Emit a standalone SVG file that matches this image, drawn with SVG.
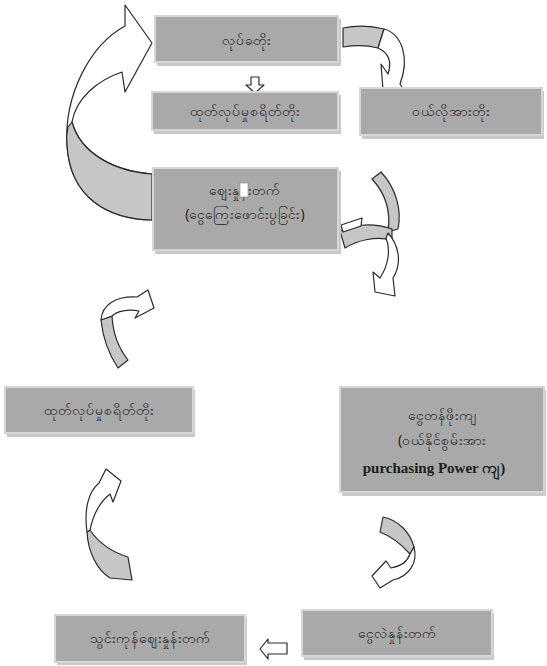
<svg xmlns="http://www.w3.org/2000/svg" width="547" height="666" viewBox="0 0 547 666">
<style>
.box{fill:#a9a9a9;stroke:#d6d6d6;stroke-width:2}
.sh{fill:#c9c9c9}
.t{font-family:"Noto Sans","DejaVu Sans",sans-serif;font-size:14px;fill:#1e1e1e;text-anchor:middle}
.s{font-family:"Liberation Serif",serif;font-size:15px;font-weight:bold;fill:#1e1e1e;text-anchor:middle}
.aw{fill:#ffffff;stroke:#2a2a2a;stroke-width:1.2;stroke-linejoin:round}
.ag{fill:#c6c6c6;stroke:#2a2a2a;stroke-width:1.2;stroke-linejoin:round}
</style>
<rect width="547" height="666" fill="#ffffff"/>
<g id="connectors">
  <path class="aw" d="M152,220 C108,219 70,198 67,145 C64,95 90,45 125,26 L125,5 L152,43 L125,92 L122,72 C98,80 76,98 72,122 C80,152 112,171 152,174 Z"/>
  <path class="ag" d="M72,122 C80,152 112,171 152,174 L152,220 C108,219 70,198 67,145 C66,137 67,131 68,127 Z"/>
  <path class="ag" d="M343,28 C358,25 372,26 384,29 L378,48 C367,45 355,45 343,47 Z"/>
  <path class="aw" d="M384,29 C402,34 410,58 400,84 L405,92 L383,90 L381,64 L388,74 C392,62 389,53 378,48 Z"/>
  <path class="aw" d="M251,77 H259 V85 H264 L255,93 L246,85 H251 Z"/>
  <path class="ag" d="M372,179 L381,172 C396,188 402,210 398,229 L388,232 C391,212 386,194 372,179 Z"/>
  <path class="ag" d="M340,231 C356,224 374,223 392,229 L392,240 C376,236 358,240 345,248 Z"/>
  <path class="aw" d="M341,225 L362,218 L361,226 L343,232 Z"/>
  <path class="aw" d="M388,233 C398,244 403,262 393,278 L395,296 L375,292 L373,272 L380,278 C388,266 391,250 386,238 Z"/>
  <path class="ag" d="M101,320 C103,340 110,356 118,368 L128,360 C120,350 113,335 112,316 Z"/>
  <path class="aw" d="M101,320 C102,305 115,296 137,297 L148,290 L154,308 L135,318 L139,311 C128,309 117,311 112,316 Z"/>
  <path class="ag" d="M90,530 C100,545 115,553 128,557 L132,580 L110,578 C97,570 88,552 87,532 Z"/>
  <path class="aw" d="M87,532 C84,510 88,492 99,483 L106,469 L121,481 L113,502 L110,494 C100,502 93,515 90,530 Z"/>
  <path class="ag" d="M383,517 C398,520 410,532 414,547 L410,554 C402,545 393,537 380,532 Z"/>
  <path class="aw" d="M414,547 C418,562 410,576 393,580 L380,588 L372,576 L386,561 L391,568 C402,566 408,560 410,554 Z"/>
  <path class="aw" d="M287,643 H268 V639 L260,649 L268,659 V654 H287 Z"/>
</g>
<g id="n1">
  <rect class="sh" x="157" y="19" width="184" height="47"/>
  <rect class="box" x="155" y="16" width="183" height="46"/>
  <text class="t" x="246" y="45">လုပ်ခတိုး</text>
</g>
<g id="n2">
  <rect class="sh" x="154" y="95" width="187" height="39"/>
  <rect class="box" x="152" y="92" width="186" height="38"/>
  <text class="t" x="245" y="116">ထုတ်လုပ်မှုစရိတ်တိုး</text>
</g>
<g id="n3">
  <rect class="sh" x="362" y="91" width="182" height="48"/>
  <rect class="box" x="360" y="88" width="182" height="47"/>
  <text class="t" x="451" y="116">ဝယ်လိုအားတိုး</text>
</g>
<g id="n4">
  <rect class="sh" x="155" y="171" width="186" height="83"/>
  <rect class="box" x="153" y="168" width="185" height="82"/>
  <text class="t" x="245" y="195">ဈေးနှုန်းတက်</text>
  <text class="t" x="245" y="219">(ငွေကြေးဖောင်းပွခြင်း)</text>
  <rect x="240" y="183" width="8" height="14" fill="#ffffff" stroke="#888" stroke-width="0.6"/>
</g>
<g id="n5">
  <rect class="sh" x="7" y="390" width="188" height="47"/>
  <rect class="box" x="5" y="387" width="188" height="46"/>
  <text class="t" x="99" y="415">ထုတ်လုပ်မှုစရိတ်တိုး</text>
</g>
<g id="n6">
  <rect class="sh" x="342" y="390" width="204" height="106"/>
  <rect class="box" x="340" y="387" width="204" height="105"/>
  <text class="t" x="442" y="420">ငွေတန်ဖိုးကျ</text>
  <text class="t" x="442" y="445">(ဝယ်နိုင်စွမ်းအား</text>
  <text class="s" x="434" y="473">purchasing Power ကျ)</text>
</g>
<g id="n7">
  <rect class="sh" x="57" y="618" width="190" height="47"/>
  <rect class="box" x="55" y="615" width="190" height="47"/>
  <text class="t" x="150" y="643">သွင်းကုန်ဈေးနှုန်းတက်</text>
</g>
<g id="n8">
  <rect class="sh" x="304" y="613" width="190" height="47"/>
  <rect class="box" x="302" y="610" width="190" height="46"/>
  <text class="t" x="397" y="638">ငွေလဲနှုန်းတက်</text>
</g>
</svg>
